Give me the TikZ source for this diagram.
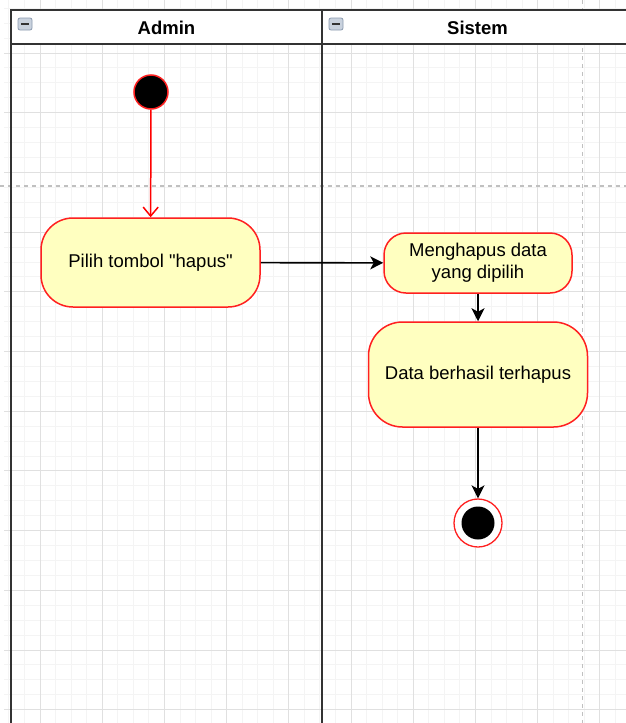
\documentclass[tikz,border=0pt]{standalone}
\usepackage{fontspec}
\setmainfont{Liberation Sans}
\newfontfamily\plainsans{Liberation Sans}
\usetikzlibrary{arrows.meta}
\definecolor{minorgrid}{HTML}{F4F4F4}
\definecolor{majorgrid}{HTML}{E0E0E0}
\definecolor{pagebreak}{HTML}{C0C0C0}
\definecolor{lanecol}{HTML}{333333}
\definecolor{actfill}{HTML}{FFFFC0}
\definecolor{actline}{HTML}{FF2020}
\definecolor{iconfill}{HTML}{C9D2DE}
\definecolor{iconline}{HTML}{8C9BB0}
\tikzset{
  minorline/.style={draw=minorgrid, line width=0.9pt},
  majorline/.style={draw=majorgrid, line width=1pt},
  breakline/.style={draw=pagebreak, line width=1.2pt, dash pattern=on 4pt off 4pt},
  laneline/.style={draw=lanecol, line width=2pt},
  action/.style={draw=actline, fill=actfill, line width=1.5pt, align=center,
    font=\plainsans\fontsize{18.5}{22}\selectfont, inner sep=0pt},
  startstate/.style={circle, draw=actline, fill=black, line width=1.5pt, minimum size=34pt, inner sep=0pt},
  endstate/.style={circle, draw=actline, fill=white, line width=1.3pt, minimum size=48pt, inner sep=0pt,
    path picture={\fill[black] (path picture bounding box.center) circle (16.5pt);}},
  flow/.style={draw=black, line width=1.6pt, -{Stealth[length=13pt,width=13pt,inset=3.5pt]}},
  redflow/.style={draw=red, line width=1.5pt, -{Straight Barb[length=9pt,width=15pt]}},
  lanetitle/.style={font=\fontsize{18.5}{22}\selectfont\bfseries, inner sep=0pt},
  minusicon/.style={draw=iconline, fill=iconfill, rounded corners=2pt, line width=0.8pt},
}
\begin{document}
\begin{tikzpicture}[x=1pt, y=-1pt]
\useasboundingbox (0,0) rectangle (626,723);
\fill[white] (0,0) rectangle (626,723);
% grid
\begin{scope}
\clip (4,0) rectangle (626,723);
\foreach \i in {-2,...,38} { \draw[minorline] ({40+15.55*\i},0) -- ({40+15.55*\i},723); }
\foreach \j in {-3,...,45} { \draw[minorline] (0,{53+14.925*\j}) -- (626,{53+14.925*\j}); }
\foreach \i in {0,...,9} { \draw[majorline] ({40+62.2*\i},0) -- ({40+62.2*\i},723); }
\foreach \j in {0,...,11} { \draw[majorline] (0,{53+59.7*\j}) -- (626,{53+59.7*\j}); }
\end{scope}
% page break lines
\draw[breakline] (0,186) -- (626,186);
\draw[breakline] (582.5,0) -- (582.5,723);
% swimlanes
\fill[white] (11,10) rectangle (640,44);
\draw[laneline] (11,740) -- (11,10) -- (640,10);
\draw[laneline] (11,44) -- (640,44);
\draw[laneline] (322,10) -- (322,740);
\node[lanetitle] (adminlbl) at (166.5,28) {Admin};
\node[lanetitle] (sistemlbl) at (477.5,28) {Sistem};
\draw[minusicon] (18,18) rectangle (32,30);
\draw[black!80, line width=1.6pt] (21,24) -- (29,24);
\draw[minusicon] (329,18) rectangle (343,30);
\draw[black!80, line width=1.6pt] (332,24) -- (340,24);
% nodes
\node[startstate] (start) at (151,92) {};
\node[action, rounded corners=32pt, minimum width=219pt, minimum height=89pt] (pilih) at (150.5,262.5) {Pilih tombol "hapus"};
\node[action, rounded corners=22pt, minimum width=188pt, minimum height=60pt] (hapus) at (478,263) {Menghapus data\\yang dipilih};
\node[action, rounded corners=34pt, minimum width=219pt, minimum height=105pt] (berhasil) at (478,374.5) {Data berhasil terhapus};
\node[endstate] (end) at (478,523) {};
% connectors
\draw[redflow] (start) -- (pilih);
\draw[flow] (pilih) -- (hapus);
\draw[flow] (hapus) -- (berhasil);
\draw[flow] (berhasil) -- (end);
\end{tikzpicture}
\end{document}
